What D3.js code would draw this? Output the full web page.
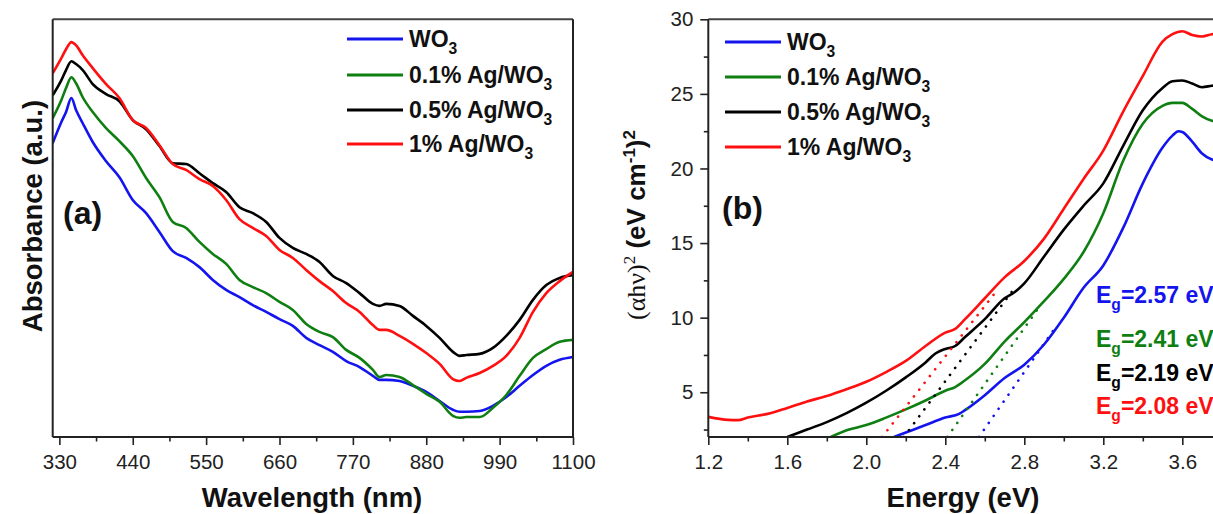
<!DOCTYPE html>
<html><head><meta charset="utf-8">
<script src="https://cdn.jsdelivr.net/npm/d3@7"></script>
<style>
body{margin:0;background:#fff}
svg{display:block}
text{font-family:"Liberation Sans",Arial,sans-serif;fill:#111}
</style>
</head><body>
<svg id="c" width="1213" height="514"></svg>
<script>
// ---------- DATA : panel (a) ----------
const wavelength = [320,333,340,348,355,365,380,400,420,440,460,480,500,520,540,560,580,600,620,640,660,680,700,720,740,760,780,800,810,820,840,860,880,900,920,930,940,960,980,1000,1020,1040,1060,1080,1100];
const absWO3   = [0.735,0.788,0.813,0.848,0.818,0.785,0.738,0.690,0.650,0.593,0.560,0.513,0.465,0.448,0.425,0.393,0.368,0.350,0.330,0.313,0.295,0.278,0.248,0.230,0.213,0.190,0.175,0.153,0.143,0.143,0.140,0.128,0.113,0.090,0.068,0.063,0.063,0.065,0.078,0.100,0.128,0.155,0.178,0.193,0.200];
const absAg01  = [0.798,0.843,0.873,0.900,0.885,0.850,0.813,0.773,0.740,0.703,0.648,0.600,0.538,0.523,0.488,0.458,0.433,0.393,0.375,0.360,0.338,0.318,0.283,0.263,0.250,0.218,0.198,0.168,0.150,0.155,0.150,0.130,0.108,0.088,0.053,0.048,0.050,0.050,0.073,0.105,0.153,0.198,0.220,0.238,0.243];
const absAg05  = [0.855,0.893,0.918,0.940,0.933,0.918,0.883,0.858,0.840,0.793,0.770,0.728,0.685,0.683,0.660,0.635,0.613,0.575,0.560,0.538,0.498,0.473,0.458,0.438,0.403,0.385,0.360,0.333,0.328,0.333,0.328,0.303,0.278,0.248,0.213,0.203,0.205,0.208,0.223,0.253,0.293,0.343,0.380,0.398,0.405];
const absAg1   = [0.910,0.948,0.970,0.988,0.980,0.955,0.923,0.883,0.848,0.793,0.773,0.730,0.683,0.668,0.645,0.628,0.593,0.545,0.523,0.503,0.468,0.448,0.418,0.390,0.365,0.335,0.313,0.280,0.268,0.268,0.253,0.233,0.210,0.183,0.145,0.140,0.148,0.160,0.178,0.203,0.248,0.313,0.360,0.390,0.413];
const wlTicks = [330,440,550,660,770,880,990,1100];
const wlMinor = [385,495,605,715,825,935,1045];

// ---------- DATA : panel (b) ----------
const energyWO3  = [2.14,2.2,2.3,2.4,2.47,2.5,2.6,2.7,2.8,2.9,3.0,3.1,3.2,3.3,3.4,3.5,3.55,3.58,3.6,3.65,3.7,3.75,3.8];
const taucWO3    = [2.0,2.3,2.8,3.3,3.55,3.8,4.8,5.95,6.85,8.2,10.0,12.0,13.5,16.0,19.0,21.4,22.2,22.5,22.45,21.8,21.0,20.6,20.5];
const energyAg01 = [1.82,1.9,2.0,2.1,2.2,2.3,2.4,2.45,2.5,2.6,2.7,2.8,2.9,3.0,3.1,3.2,3.3,3.4,3.5,3.55,3.6,3.65,3.7,3.75,3.8];
const taucAg01   = [2.0,2.45,2.8,3.3,3.85,4.45,5.1,5.35,5.8,6.9,8.4,9.7,11.1,12.6,14.4,17.0,20.5,23.0,24.2,24.4,24.4,24.0,23.5,23.2,23.1];
const energyAg05 = [1.6,1.7,1.8,1.9,2.0,2.1,2.2,2.3,2.35,2.4,2.45,2.5,2.6,2.7,2.75,2.8,2.9,3.0,3.1,3.2,3.3,3.4,3.5,3.55,3.6,3.65,3.7,3.75,3.8];
const taucAg05   = [2.0,2.5,3.0,3.6,4.3,5.1,6.0,7.0,7.6,7.9,8.1,8.7,9.9,11.3,11.7,12.3,14.1,15.9,17.5,19.0,21.5,23.9,25.4,25.85,25.9,25.7,25.45,25.55,25.6];
const energyAg1  = [1.2,1.3,1.35,1.4,1.5,1.6,1.7,1.8,1.9,2.0,2.1,2.2,2.3,2.4,2.45,2.5,2.6,2.7,2.8,2.9,3.0,3.1,3.2,3.3,3.4,3.5,3.55,3.6,3.65,3.7,3.75,3.8];
const taucAg1    = [3.35,3.15,3.13,3.3,3.55,3.95,4.38,4.75,5.2,5.7,6.35,7.1,8.1,9.0,9.25,9.9,11.3,12.7,13.8,15.3,17.3,19.3,21.2,23.8,26.2,28.5,29.0,29.2,28.95,28.85,29.0,29.05];
const bandGap    = [2.57,2.41,2.19,2.08];       // tangent intercepts (WO3, 0.1%, 0.5%, 1%)
const tangentEndE = [2.95,2.88,2.74,2.66];
const tangentEndV = [9.2,10.8,11.8,11.8];
const energyTicks = [1.2,1.6,2.0,2.4,2.8,3.2,3.6];
const energyMinor = [1.4,1.8,2.2,2.6,3.0,3.4,3.8];
const taucTicks = [5,10,15,20,25,30];
const taucMinor = [2.5,7.5,12.5,17.5,22.5,27.5];

const seriesBase = ["WO","0.1% Ag/WO","0.5% Ag/WO","1% Ag/WO"];
const seriesColors = ["#1414ee","#0f7f12","#000000","#ff1010"];

// ---------- DRAW ----------
const svg = d3.select("#c");
svg.append("rect").attr("width",1213).attr("height",514).attr("fill","#fff");

function addSubText(sel, x, y, base, sub, rest, size, color){
  const t = sel.append("text").attr("x",x).attr("y",y)
    .attr("font-size",size).attr("font-weight","bold").style("fill",color);
  t.append("tspan").text(base);
  t.append("tspan").attr("dy",size*0.3).attr("font-size",size*0.68).text(sub);
  if(rest) t.append("tspan").attr("dy",-size*0.3).text(rest);
  return t;
}

// ===== Panel (a) =====
const xL = d3.scaleLinear().domain([320,1100]).range([52.7,573]);
const yL = d3.scaleLinear().domain([0,1.045]).range([437,19.3]);
const defs = svg.append("defs");
defs.append("clipPath").attr("id","clipA").append("rect")
  .attr("x",xL.range()[0]).attr("y",yL.range()[1])
  .attr("width",xL.range()[1]-xL.range()[0]).attr("height",yL.range()[0]-yL.range()[1]);

const gA = svg.append("g");
const absSeries = [absWO3, absAg01, absAg05, absAg1];
const lineA = d3.line().x(d=>xL(d[0])).y(d=>yL(d[1])).curve(d3.curveMonotoneX);
[0,1,2,3].forEach(i=>{
  gA.append("path").attr("clip-path","url(#clipA)")
    .datum(wavelength.map((w,k)=>[w,absSeries[i][k]]))
    .attr("d",lineA).attr("fill","none").attr("stroke",seriesColors[i])
    .attr("stroke-width",2.6).attr("stroke-linejoin","round");
});
// frame
gA.append("line").attr("x1",52.7).attr("x2",573).attr("y1",19.3).attr("y2",19.3).attr("stroke","#444").attr("stroke-width",2);
gA.append("line").attr("x1",573).attr("x2",573).attr("y1",19.3).attr("y2",437).attr("stroke","#222").attr("stroke-width",2);
gA.append("line").attr("x1",52.7).attr("x2",52.7).attr("y1",19.3).attr("y2",437).attr("stroke","#222").attr("stroke-width",2);

const axA = gA.append("g").attr("transform","translate(0,437)")
  .call(d3.axisBottom(xL).tickValues(wlTicks).tickSize(8).tickPadding(9).tickFormat(d3.format("d")));
axA.select(".domain").attr("stroke","#222").attr("stroke-width",2).attr("d","M52.7,0H573");
axA.selectAll(".tick line").attr("stroke","#222").attr("stroke-width",1.6);
axA.selectAll(".tick text").attr("font-size",20.5).attr("font-family","Liberation Sans, Arial, sans-serif").style("fill","#222");
const axAm = gA.append("g").attr("transform","translate(0,437)")
  .call(d3.axisBottom(xL).tickValues(wlMinor).tickSize(4.5).tickFormat(""));
axAm.select(".domain").remove();
axAm.selectAll(".tick line").attr("stroke","#222").attr("stroke-width",1.6);

gA.append("text").attr("x",312).attr("y",507).attr("text-anchor","middle")
  .attr("font-size",27.5).attr("font-weight","bold").text("Wavelength (nm)");
gA.append("text").attr("transform","translate(42,216) rotate(-90)").attr("text-anchor","middle")
  .attr("font-size",27.5).attr("font-weight","bold").text("Absorbance (a.u.)");
gA.append("text").attr("x",63).attr("y",224).attr("font-size",32).attr("font-weight","bold")
  .attr("font-family","Open Sans, sans-serif").text("(a)");

// legend (a)
const legYa = [39,75,110,144];
seriesBase.forEach((b,i)=>{
  gA.append("line").attr("x1",347).attr("x2",403).attr("y1",legYa[i]).attr("y2",legYa[i])
    .attr("stroke",seriesColors[i]).attr("stroke-width",2.8);
  addSubText(gA,409,legYa[i]+8,b,"3",null,23,"#111");
});

// ===== Panel (b) =====
const xR = d3.scaleLinear().domain([1.2,4.0]).range([708.3,708.3+2.8*197.5]);
const yR = d3.scaleLinear().domain([2,30]).range([437,19.3]);
defs.append("clipPath").attr("id","clipB").append("rect")
  .attr("x",xR.range()[0]).attr("y",yR.range()[1])
  .attr("width",xR.range()[1]-xR.range()[0]).attr("height",yR.range()[0]-yR.range()[1]);
const gB = svg.append("g");
const eSeries = [energyWO3, energyAg01, energyAg05, energyAg1];
const tSeries = [taucWO3, taucAg01, taucAg05, taucAg1];
const lineB = d3.line().x(d=>xR(d[0])).y(d=>yR(d[1])).curve(d3.curveMonotoneX);
[0,1,2,3].forEach(i=>{
  gB.append("path").attr("clip-path","url(#clipB)")
    .datum(eSeries[i].map((e,k)=>[e,tSeries[i][k]]))
    .attr("d",lineB).attr("fill","none").attr("stroke",seriesColors[i])
    .attr("stroke-width",2.6).attr("stroke-linejoin","round");
});
// tangent dotted lines
[0,1,2,3].forEach(i=>{
  gB.append("line").attr("clip-path","url(#clipB)")
    .attr("x1",xR(bandGap[i])).attr("y1",yR(2)).attr("x2",xR(tangentEndE[i])).attr("y2",yR(tangentEndV[i]))
    .attr("stroke",seriesColors[i]).attr("stroke-width",2.6)
    .attr("stroke-linecap","round").attr("stroke-dasharray","0.1,8.5");
});
gB.append("line").attr("x1",708.3).attr("x2",1213).attr("y1",19.3).attr("y2",19.3).attr("stroke","#444").attr("stroke-width",2);

const axBx = gB.append("g").attr("transform","translate(0,437)")
  .call(d3.axisBottom(xR).tickValues(energyTicks).tickSize(8).tickPadding(9).tickFormat(d3.format(".1f")));
axBx.select(".domain").attr("stroke","#222").attr("stroke-width",2).attr("d","M708.3,0H1213");
axBx.selectAll(".tick line").attr("stroke","#222").attr("stroke-width",1.6);
axBx.selectAll(".tick text").attr("font-size",20.5).attr("font-family","Liberation Sans, Arial, sans-serif").style("fill","#222");
const axBxm = gB.append("g").attr("transform","translate(0,437)")
  .call(d3.axisBottom(xR).tickValues(energyMinor).tickSize(4.5).tickFormat(""));
axBxm.select(".domain").remove();
axBxm.selectAll(".tick line").attr("stroke","#222").attr("stroke-width",1.6);

const axBy = gB.append("g").attr("transform","translate(708.3,0)")
  .call(d3.axisLeft(yR).tickValues(taucTicks).tickSize(8).tickPadding(7).tickFormat(d3.format("d")));
axBy.select(".domain").attr("stroke","#222").attr("stroke-width",2).attr("d","M0,19.3V437");
axBy.selectAll(".tick line").attr("stroke","#222").attr("stroke-width",1.6);
axBy.selectAll(".tick text").attr("font-size",20.5).attr("font-family","Liberation Sans, Arial, sans-serif").style("fill","#222");
const axBym = gB.append("g").attr("transform","translate(708.3,0)")
  .call(d3.axisLeft(yR).tickValues(taucMinor).tickSize(4.5).tickFormat(""));
axBym.select(".domain").remove();
axBym.selectAll(".tick line").attr("stroke","#222").attr("stroke-width",1.6);

gB.append("text").attr("x",963).attr("y",507).attr("text-anchor","middle")
  .attr("font-size",27.5).attr("font-weight","bold").text("Energy (eV)");
// y title
const yt = gB.append("text").attr("transform","translate(645,225) rotate(-90)").attr("text-anchor","middle").attr("font-size",26);
yt.append("tspan").attr("font-family","Liberation Serif, DejaVu Serif, serif").text("(\u03B1h\u03BD)");
yt.append("tspan").attr("font-family","Liberation Serif, serif").attr("font-size",17).attr("dy",-10).text("2");
yt.append("tspan").attr("font-weight","bold").attr("dy",10).text(" (eV cm");
yt.append("tspan").attr("font-weight","bold").attr("font-size",17).attr("dy",-10).text("-1");
yt.append("tspan").attr("font-weight","bold").attr("dy",10).text(")");
yt.append("tspan").attr("font-weight","bold").attr("font-size",17).attr("dy",-10).text("2");

gB.append("text").attr("x",722).attr("y",219).attr("font-size",32).attr("font-weight","bold")
  .attr("font-family","Open Sans, sans-serif").text("(b)");

const legYb = [42,77,112,147];
seriesBase.forEach((b,i)=>{
  gB.append("line").attr("x1",725).attr("x2",781).attr("y1",legYb[i]).attr("y2",legYb[i])
    .attr("stroke",seriesColors[i]).attr("stroke-width",2.8);
  addSubText(gB,787,legYb[i]+8,b,"3",null,23,"#111");
});

// Eg labels
const egY = [303,347,381,414];
bandGap.forEach((g,i)=>{
  addSubText(gB,1096,egY[i],"E","g","="+d3.format(".2f")(g)+" eV",23,seriesColors[i]);
});
</script>
</body></html>
